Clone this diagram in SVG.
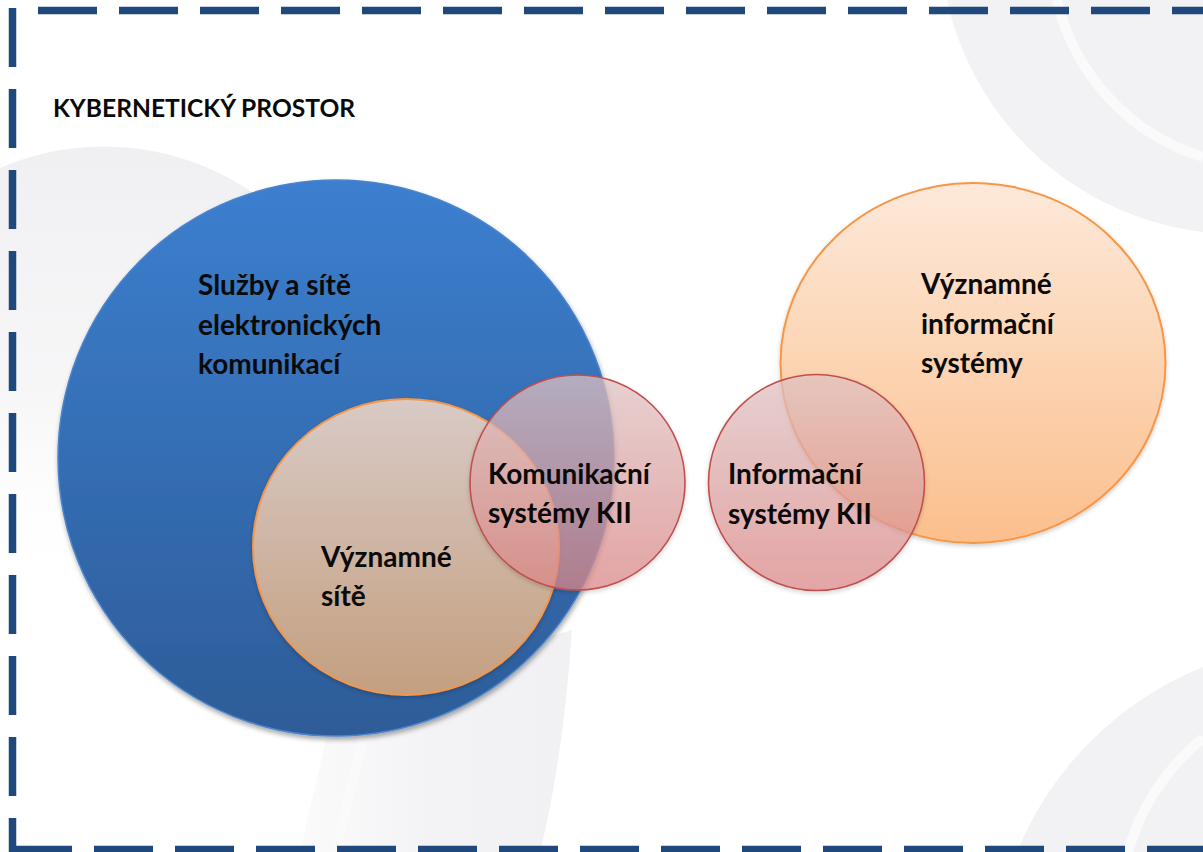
<svg xmlns="http://www.w3.org/2000/svg" width="1203" height="852" viewBox="0 0 1203 852">
  <defs>
    <style>
      .t { font-family: Lato, "Open Sans", "Liberation Sans", sans-serif; font-weight: 700; fill: #0a0a0a; }
      .lbl { font-size: 28px; }
      .title { font-size: 24.6px; }
      .swirl { fill: #f2f2f4; }
      .band { fill: none; stroke: #fafafb; }
      .frame { stroke: #1f497d; stroke-width: 7.5; stroke-dasharray: 59 22; fill: none; }
      .kii { fill: url(#gPink); fill-opacity: 0.7; stroke: #c0504d; stroke-width: 1.6; }
    </style>
    <linearGradient id="gBlue" x1="0" y1="0" x2="0" y2="1">
      <stop offset="0" stop-color="#3c7fcf"/>
      <stop offset="1" stop-color="#2d5c98"/>
    </linearGradient>
    <linearGradient id="gTan" x1="0" y1="0" x2="0" y2="1">
      <stop offset="0" stop-color="#d9cac6"/>
      <stop offset="1" stop-color="#c49f7f"/>
    </linearGradient>
    <linearGradient id="gOrange" x1="0" y1="0" x2="0" y2="1">
      <stop offset="0" stop-color="#fde9da"/>
      <stop offset="1" stop-color="#fbbf8c"/>
    </linearGradient>
    <linearGradient id="gPink" x1="0" y1="0" x2="0" y2="1">
      <stop offset="0" stop-color="#e4c6c6"/>
      <stop offset="1" stop-color="#e08888"/>
    </linearGradient>
    <linearGradient id="gLeft" gradientUnits="userSpaceOnUse" x1="0" y1="150" x2="0" y2="600">
      <stop offset="0" stop-color="#f0f0f2" stop-opacity="1"/>
      <stop offset="0.55" stop-color="#f3f3f5" stop-opacity="0.7"/>
      <stop offset="1" stop-color="#ffffff" stop-opacity="0"/>
    </linearGradient>
    <linearGradient id="gBottom" gradientUnits="userSpaceOnUse" x1="300" y1="0" x2="572" y2="0">
      <stop offset="0" stop-color="#f4f4f6" stop-opacity="0.4"/>
      <stop offset="0.5" stop-color="#f3f3f5" stop-opacity="1"/>
      <stop offset="1" stop-color="#f1f1f3" stop-opacity="1"/>
    </linearGradient>
    <filter id="shadow" x="-10%" y="-10%" width="120%" height="125%">
      <feDropShadow dx="1" dy="3" stdDeviation="2.5" flood-color="#000" flood-opacity="0.35"/>
    </filter>
    <filter id="shadowSoft" x="-10%" y="-10%" width="120%" height="125%">
      <feDropShadow dx="0" dy="2" stdDeviation="2" flood-color="#000" flood-opacity="0.2"/>
    </filter>
  </defs>

  <rect width="1203" height="852" fill="#ffffff"/>

  <g id="background">
    <path d="M 0 168 A 262 262 0 0 1 320 260 L 320 560 L 0 600 Z" fill="url(#gLeft)"/>
    <path class="swirl" d="M 947 0 A 298 298 0 0 0 1203 232 L 1203 0 Z"/>
    <path class="band" stroke-width="10" d="M 1057 0 A 215 215 0 0 0 1203 157"/>
    <path class="swirl" d="M 1017 852 A 337 337 0 0 1 1203 667 L 1203 852 Z"/>
    <path class="band" stroke-width="10" d="M 1128 852 A 230 230 0 0 1 1203 738"/>
    <path d="M 335 700 L 300 852 L 540 852 Q 563 760 572 630 Z" fill="url(#gBottom)"/>
    <path class="band" stroke-width="10" d="M 368 720 Q 350 790 336 852"/>
  </g>

  <g id="frame">
    <line class="frame" x1="38" y1="10.5" x2="1210" y2="10.5"/>
    <line class="frame" x1="12.5" y1="8" x2="12.5" y2="852"/>
    <line class="frame" x1="13" y1="849.5" x2="1210" y2="849.5"/>
  </g>

  <g id="title">
    <text class="t title" x="53" y="117">KYBERNETICKÝ PROSTOR</text>
  </g>

  <g id="node-sluzby">
    <circle cx="336" cy="458" r="278" fill="url(#gBlue)" stroke="#4a84cc" stroke-width="1.5" filter="url(#shadow)"/>
    <text class="t lbl" x="198" y="295">Služby a sítě</text>
    <text class="t lbl" x="198" y="335">elektronických</text>
    <text class="t lbl" x="198" y="374">komunikací</text>
  </g>

  <g id="node-vyznamne-site">
    <ellipse cx="406" cy="547" rx="153" ry="148" fill="url(#gTan)" stroke="#f79646" stroke-width="2" filter="url(#shadowSoft)"/>
    <text class="t lbl" x="321" y="567">Významné</text>
    <text class="t lbl" x="321" y="606">sítě</text>
  </g>

  <g id="node-vyznamne-is">
    <ellipse cx="973" cy="363" rx="192.5" ry="180" fill="url(#gOrange)" stroke="#f79646" stroke-width="2" filter="url(#shadowSoft)"/>
    <text class="t lbl" x="921" y="294">Významné</text>
    <text class="t lbl" x="921" y="334">informační</text>
    <text class="t lbl" x="921" y="373">systémy</text>
  </g>

  <g id="node-komunikacni-kii">
    <circle class="kii" cx="577.5" cy="482.5" r="107.5" filter="url(#shadowSoft)"/>
    <text class="t lbl" x="488" y="484">Komunikační</text>
    <text class="t lbl" x="488" y="523">systémy KII</text>
  </g>

  <g id="node-informacni-kii">
    <circle class="kii" cx="816.5" cy="482.5" r="108" filter="url(#shadowSoft)"/>
    <text class="t lbl" x="728" y="484">Informační</text>
    <text class="t lbl" x="728" y="524">systémy KII</text>
  </g>

  <g id="connectors"/>
</svg>
